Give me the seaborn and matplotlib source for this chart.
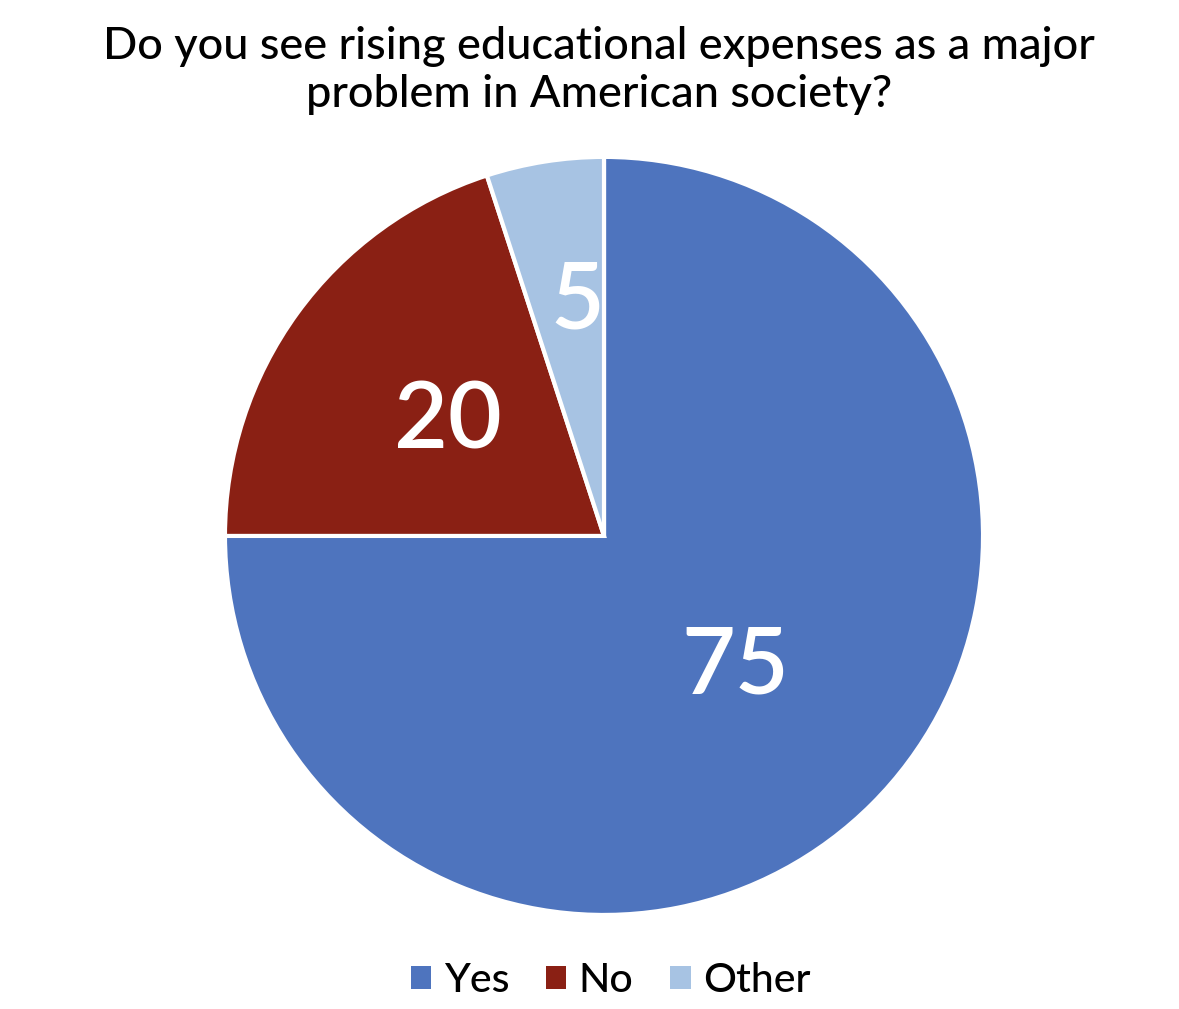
import matplotlib
matplotlib.use("Agg")
import matplotlib.pyplot as plt
import seaborn as sns
import numpy as np
from matplotlib.patches import Patch

categories = ["Yes", "No", "Other"]
values = [75, 20, 5]
colors = ["#4E74BE", "#8A2014", "#A7C3E3"]
title = "Do you see rising educational expenses as a major\nproblem in American society?"

sns.set_theme(style="white")
plt.rcParams['font.family'] = ['Lato', 'DejaVu Sans']
plt.rcParams['text.color'] = 'black'

fig = plt.figure(figsize=(11.79, 10.09), dpi=100)
ax = fig.add_axes([0.1908, 0.0932, 0.6430, 0.7513])

wedges, _ = ax.pie(values, colors=colors, startangle=90, counterclock=False,
                   wedgeprops=dict(edgecolor="white", linewidth=3))
ax.set_aspect("equal")
ax.set_xlim(-1, 1)
ax.set_ylim(-1, 1)
ax.axis("off")

label_dist = [0.49, 0.51, 0.62]
label_angle_shift = [0, 0, -2.5]
for w, v, d, s in zip(wedges, values, label_dist, label_angle_shift):
    ang = np.deg2rad((w.theta1 + w.theta2) / 2 + s)
    ax.text(d * np.cos(ang), d * np.sin(ang), f"{v}", ha="center", va="center",
            color="white", fontsize=67, fontweight="semibold")

fig.text(0.508, 0.974, title, ha="center", va="top", fontsize=32.5,
         color="black", linespacing=1.22, fontweight="medium")

handles = [Patch(facecolor=c, edgecolor="none") for c in colors]
leg = fig.legend(handles, categories, loc="center", bbox_to_anchor=(0.518, 0.028),
                 ncol=3, frameon=False, handlelength=0.5, handleheight=0.5,
                 handletextpad=0.3, columnspacing=0.9,
                 prop=dict(size=29.5, weight="medium"))
for t in leg.get_texts():
    t.set_color("black")

fig.savefig("out.png", dpi=100)
